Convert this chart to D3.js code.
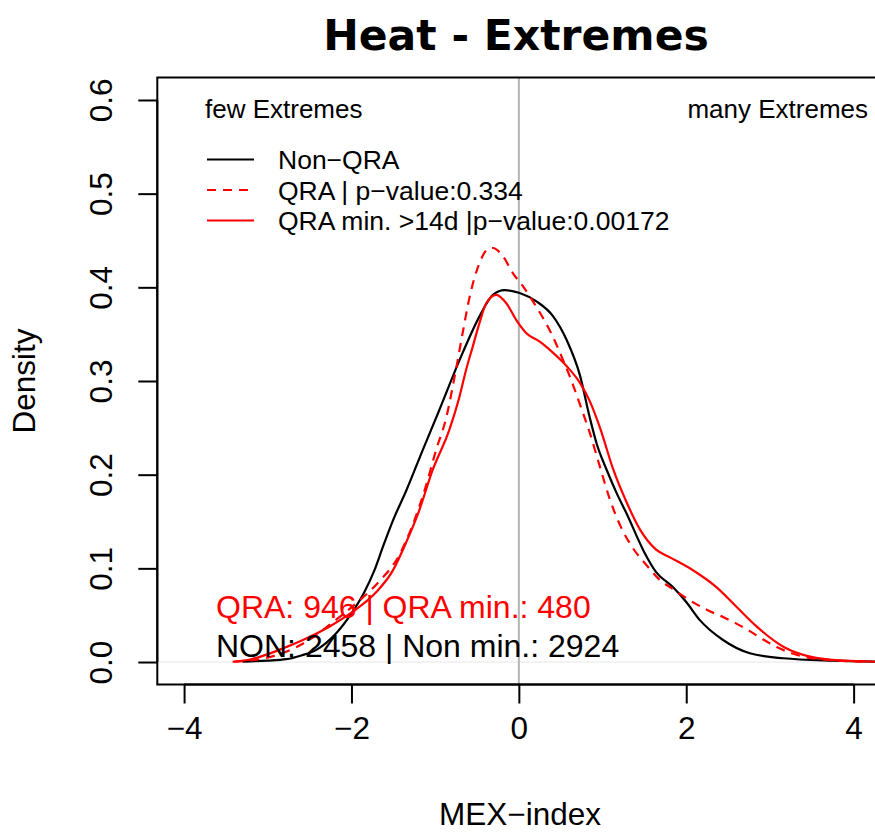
<!DOCTYPE html>
<html>
<head>
  <title>Heat - Extremes</title>
  <script src="https://d3js.org/d3.v7.min.js"></script>
  <style>
    body { margin: 0; background: white; }
    text { font-family: "Liberation Sans", Arial, sans-serif; }
  </style>
</head>
<body>
  <svg id="chart"></svg>
  <script>
    // Density curves: [MEX-index, density]
    const nonQRA = [
      [-3.3, 0.0005], [-3.0, 0.0015], [-2.78, 0.003], [-2.6, 0.007], [-2.42, 0.013],
      [-2.18, 0.031], [-2.0, 0.052], [-1.85, 0.074], [-1.73, 0.097], [-1.62, 0.124],
      [-1.5, 0.152], [-1.35, 0.182], [-1.15, 0.226], [-0.95, 0.269], [-0.71, 0.322],
      [-0.47, 0.369], [-0.31, 0.392], [-0.17, 0.397], [0.01, 0.394], [0.21, 0.385],
      [0.41, 0.369], [0.57, 0.344], [0.73, 0.306], [0.85, 0.260], [0.93, 0.233],
      [1.05, 0.205], [1.17, 0.180], [1.29, 0.158], [1.5, 0.117], [1.64, 0.096],
      [1.84, 0.080], [2.0, 0.064], [2.16, 0.045], [2.44, 0.0235], [2.76, 0.0093],
      [3.16, 0.004], [3.76, 0.0014], [4.3, 0.0003]
    ];
    const qra = [
      [-3.4, 0.0005], [-3.1, 0.003], [-2.78, 0.011], [-2.5, 0.024], [-2.2, 0.044],
      [-1.9, 0.066], [-1.67, 0.086], [-1.43, 0.114], [-1.27, 0.146], [-1.11, 0.188],
      [-0.99, 0.226], [-0.87, 0.260], [-0.75, 0.313], [-0.67, 0.352], [-0.59, 0.389],
      [-0.47, 0.426], [-0.38, 0.440], [-0.31, 0.442], [-0.19, 0.433], [-0.07, 0.415],
      [0.05, 0.401], [0.21, 0.379], [0.37, 0.354], [0.53, 0.322], [0.63, 0.300],
      [0.73, 0.275], [0.85, 0.244], [0.97, 0.208], [1.09, 0.173], [1.22, 0.144],
      [1.36, 0.122], [1.52, 0.104], [1.68, 0.088], [1.84, 0.078], [2.04, 0.066],
      [2.24, 0.056], [2.44, 0.048], [2.6, 0.041], [2.76, 0.033], [2.92, 0.024],
      [3.08, 0.016], [3.24, 0.010], [3.4, 0.0057], [3.6, 0.003], [3.8, 0.0015],
      [4.1, 0.0005]
    ];
    const qraMin = [
      [-3.42, 0.0003], [-3.2, 0.003], [-2.98, 0.009], [-2.78, 0.016], [-2.58, 0.0235],
      [-2.26, 0.038], [-1.98, 0.054], [-1.7, 0.075], [-1.51, 0.097], [-1.35, 0.127],
      [-1.19, 0.162], [-1.03, 0.205], [-0.83, 0.248], [-0.71, 0.283], [-0.63, 0.312],
      [-0.55, 0.337], [-0.47, 0.362], [-0.39, 0.383], [-0.27, 0.392], [-0.15, 0.383],
      [-0.03, 0.365], [0.09, 0.351], [0.25, 0.342], [0.41, 0.330], [0.57, 0.316],
      [0.73, 0.298], [0.85, 0.278], [0.97, 0.250], [1.13, 0.205], [1.29, 0.170],
      [1.45, 0.141], [1.64, 0.120], [1.8, 0.112], [2.08, 0.098], [2.36, 0.080],
      [2.6, 0.059], [2.84, 0.038], [3.16, 0.0163], [3.48, 0.0057], [3.88, 0.0014],
      [4.3, 0.0002]
    ];

    const xTicks = [-4, -2, 0, 2, 4];
    const yTicks = [0, 0.1, 0.2, 0.3, 0.4, 0.5, 0.6];
    const legendLabels = ["Non\u2212QRA", "QRA | p\u2212value:0.334", "QRA min. >14d |p\u2212value:0.00172"];
    const countLabels = ["QRA: 946 | QRA min.: 480", "NON: 2458 | Non min.: 2924"];

    const width = 875, height = 832;

    const svg = d3.select("#chart")
      .attr("width", width)
      .attr("height", height);

    // R style: axis ranges padded by 4%
    const x = d3.scaleLinear().domain([-4.32, 4.32]).range([157.3, 880.4]);
    const y = d3.scaleLinear().domain([-0.024, 0.624]).range([684.5, 77.5]);

    // zero lines
    svg.append("line")
      .attr("x1", x(-4.32)).attr("x2", x(4.32))
      .attr("y1", y(0)).attr("y2", y(0))
      .style("stroke", "#e6e6e6").style("stroke-width", 1);

    svg.append("line")
      .attr("x1", x(0)).attr("x2", x(0))
      .attr("y1", y(0.624)).attr("y2", y(-0.024))
      .style("stroke", "#b4b4b4").style("stroke-width", 2);

    // density lines
    const line = d3.line()
      .x(d => x(d[0]))
      .y(d => y(d[1]))
      .curve(d3.curveMonotoneX);

    const series = [
      { data: nonQRA, color: "black", dash: null },
      { data: qra, color: "red", dash: "9,7" },
      { data: qraMin, color: "red", dash: null }
    ];

    svg.selectAll("path.density")
      .data(series)
      .enter().append("path")
      .attr("class", "density")
      .attr("d", d => line(d.data))
      .style("fill", "none")
      .style("stroke", d => d.color)
      .style("stroke-width", 2.2)
      .style("stroke-dasharray", d => d.dash);

    // box around the plot
    svg.append("rect")
      .attr("x", x(-4.32)).attr("y", y(0.624))
      .attr("width", x(4.32) - x(-4.32))
      .attr("height", y(-0.024) - y(0.624))
      .style("fill", "none")
      .style("stroke", "black")
      .style("stroke-width", 2);

    // x axis
    const xAxis = d3.axisBottom(x)
      .tickValues(xTicks)
      .tickSize(19)
      .tickPadding(13)
      .tickFormat(d => d < 0 ? "\u2212" + Math.abs(d) : d);

    const gx = svg.append("g")
      .attr("transform", `translate(0,${y(-0.024)})`)
      .call(xAxis);
    gx.select(".domain").attr("d", `M${x(-4)},0H${x(4)}`).style("stroke-width", 2);
    gx.selectAll(".tick line").style("stroke-width", 2);
    gx.selectAll("text")
      .style("font-family", "Liberation Sans")
      .style("font-size", "31.5px")
      .style("fill", "black");

    // y axis, labels turned like R does
    const yAxis = d3.axisLeft(y)
      .tickValues(yTicks)
      .tickSize(19)
      .tickFormat(d3.format(".1f"));

    const gy = svg.append("g")
      .attr("transform", `translate(${x(-4.32)},0)`)
      .call(yAxis);
    gy.select(".domain").attr("d", `M0,${y(0)}V${y(0.6)}`).style("stroke-width", 2);
    gy.selectAll(".tick line").style("stroke-width", 2);
    gy.selectAll("text")
      .attr("x", null).attr("dy", null)
      .attr("text-anchor", "middle")
      .attr("transform", "translate(-45.5,0) rotate(-90)")
      .style("font-family", "Liberation Sans")
      .style("font-size", "31.5px")
      .style("fill", "black");

    // titles
    svg.append("text")
      .attr("x", 516).attr("y", 50)
      .attr("text-anchor", "middle")
      .style("font-family", "DejaVu Sans")
      .style("font-weight", "bold")
      .style("font-size", "42.5px")
      .text("Heat - Extremes");

    svg.append("text")
      .attr("x", 520).attr("y", 825)
      .attr("text-anchor", "middle")
      .style("font-size", "31.5px")
      .text("MEX\u2212index");

    svg.append("text")
      .attr("transform", `translate(35,${(y(0.624) + y(-0.024)) / 2}) rotate(-90)`)
      .attr("text-anchor", "middle")
      .style("font-size", "31.5px")
      .text("Density");

    // side notes
    svg.append("text")
      .attr("x", 205).attr("y", 118)
      .style("font-size", "26px")
      .text("few Extremes");

    svg.append("text")
      .attr("x", 868).attr("y", 118)
      .attr("text-anchor", "end")
      .style("font-size", "26px")
      .text("many Extremes");

    // legend
    const legend = svg.selectAll(".legend")
      .data(series)
      .enter().append("g")
      .attr("class", "legend")
      .attr("transform", (d, i) => `translate(207,${159.5 + i * 30.5})`);

    legend.append("line")
      .attr("x1", 0).attr("x2", 47)
      .style("stroke", d => d.color)
      .style("stroke-width", 2.2)
      .style("stroke-dasharray", d => d.dash);

    legend.append("text")
      .attr("x", 71).attr("y", 9.5)
      .style("font-size", "26.5px")
      .text((d, i) => legendLabels[i]);

    // sample counts
    svg.selectAll(".count")
      .data(countLabels)
      .enter().append("text")
      .attr("class", "count")
      .attr("x", 216)
      .attr("y", (d, i) => 618 + i * 39)
      .style("font-size", "32px")
      .style("fill", (d, i) => i === 0 ? "red" : "black")
      .text(d => d);
  </script>
</body>
</html>
